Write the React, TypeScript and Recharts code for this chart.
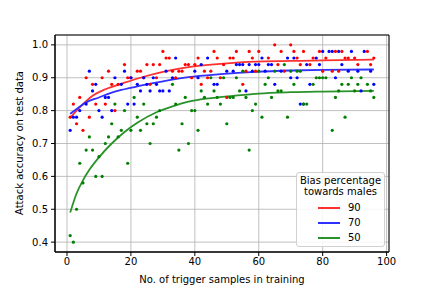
import { ComposedChart, Scatter, Line, XAxis, YAxis, CartesianGrid, ReferenceArea } from 'recharts';

// scatter points [trigger samples, accuracy]
const points90: [number, number][] = [
  [1, 0.78], [2, 0.82], [3, 0.76], [4, 0.84], [5, 0.74], [6, 0.9], [7, 0.78], [8, 0.88], [9, 0.82],
  [11, 0.9], [12, 0.82], [13, 0.92], [14, 0.88], [15, 0.8], [16, 0.88], [18, 0.94], [19, 0.9], [20, 0.9],
  [22, 0.92], [23, 0.92], [24, 0.9], [25, 0.94], [26, 0.88], [27, 0.94], [28, 0.9], [29, 0.94], [30, 0.98],
  [31, 0.96], [32, 0.96], [33, 0.92], [34, 0.9], [35, 0.92], [36, 0.92], [37, 0.94], [38, 0.94], [39, 0.9],
  [40, 0.94], [41, 0.96], [42, 0.88], [43, 0.92], [44, 0.9], [45, 0.92], [46, 0.98], [47, 0.96], [48, 0.9],
  [49, 0.94], [50, 0.84], [51, 0.96], [52, 0.96], [53, 0.98], [55, 0.88], [56, 0.92], [57, 0.98], [58, 0.96],
  [59, 0.92], [60, 0.98], [63, 0.96], [65, 1.0], [66, 0.94], [67, 0.98], [68, 0.92], [70, 1.0], [71, 0.98],
  [72, 0.96], [73, 0.94], [74, 0.98], [76, 0.94], [77, 0.96], [79, 0.98], [80, 0.92], [81, 0.96], [83, 0.92],
  [84, 0.98], [85, 0.92], [86, 0.98], [87, 0.96], [88, 0.96], [90, 0.96], [91, 0.94], [94, 0.98], [95, 0.94],
  [96, 0.96],
];

const points70: [number, number][] = [
  [1, 0.74], [2, 0.78], [3, 0.78], [4, 0.8], [6, 0.82], [7, 0.92], [8, 0.86], [9, 0.88], [10, 0.8],
  [11, 0.78], [12, 0.84], [13, 0.84], [14, 0.8], [15, 0.9], [17, 0.88], [18, 0.92], [19, 0.82], [20, 0.9],
  [21, 0.82], [22, 0.88], [23, 0.86], [24, 0.9], [25, 0.88], [26, 0.86], [27, 0.9], [28, 0.88], [29, 0.86],
  [30, 0.86], [31, 0.92], [32, 0.86], [33, 0.9], [34, 0.96], [40, 0.92], [41, 0.9], [42, 0.94], [44, 0.96],
  [46, 0.88], [47, 0.88], [50, 0.92], [52, 0.92], [53, 0.94], [54, 0.94], [55, 0.94], [56, 0.86], [57, 0.94],
  [58, 0.92], [59, 0.94], [60, 0.94], [61, 0.96], [62, 0.92], [63, 0.94], [64, 0.94], [65, 0.88], [67, 0.92],
  [69, 0.96], [70, 0.9], [71, 0.96], [72, 0.9], [73, 0.82], [74, 0.82], [75, 0.94], [76, 0.88], [78, 0.96],
  [79, 0.94], [80, 0.98], [82, 0.98], [83, 0.98], [84, 0.9], [85, 0.98], [86, 0.94], [88, 0.92], [89, 0.98],
  [91, 0.92], [92, 0.86], [93, 0.98], [95, 0.92], [96, 0.88],
];

const points50: [number, number][] = [
  [1, 0.42], [2, 0.4], [3, 0.5], [4, 0.64], [5, 0.58], [6, 0.68], [7, 0.72], [8, 0.68], [9, 0.6],
  [10, 0.66], [11, 0.6], [12, 0.7], [13, 0.72], [14, 0.76], [15, 0.82], [16, 0.72], [17, 0.74], [18, 0.8],
  [19, 0.64], [20, 0.74], [21, 0.84], [22, 0.78], [23, 0.74], [24, 0.82], [25, 0.76], [26, 0.7], [27, 0.76],
  [28, 0.78], [29, 0.8], [33, 0.88], [34, 0.82], [35, 0.68], [36, 0.76], [37, 0.84], [38, 0.7], [39, 0.8],
  [40, 0.8], [41, 0.74], [42, 0.86], [43, 0.84], [44, 0.82], [45, 0.9], [46, 0.86], [47, 0.84], [48, 0.82],
  [49, 0.9], [50, 0.76], [51, 0.84], [52, 0.84], [53, 0.9], [54, 0.86], [55, 0.92], [56, 0.84], [57, 0.68],
  [58, 0.8], [59, 0.82], [60, 0.92], [61, 0.78], [62, 0.88], [63, 0.9], [64, 0.84], [65, 0.92], [66, 0.86],
  [67, 0.86], [68, 0.94], [69, 0.78], [70, 0.92], [71, 0.88], [72, 0.92], [73, 0.92], [74, 0.82], [75, 0.82],
  [77, 0.88], [78, 0.9], [79, 0.9], [80, 0.9], [81, 0.9], [83, 0.74], [84, 0.84], [85, 0.86], [86, 0.88],
  [87, 0.78], [88, 0.88], [89, 0.9], [90, 0.86], [91, 0.88], [92, 0.9], [94, 0.88], [95, 0.86], [96, 0.84],
];

// fitted trend curves, sampled from the figure
const curve90: [number, number][] = [
  [1, 0.778], [3, 0.8], [5, 0.82], [8, 0.845], [12, 0.865], [18, 0.885], [24, 0.903], [30, 0.918],
  [38, 0.932], [48, 0.942], [59, 0.949], [70, 0.951], [80, 0.953], [96, 0.955],
];
const curve70: [number, number][] = [
  [1, 0.79], [3, 0.805], [6, 0.825], [10, 0.84], [14, 0.855], [18, 0.865], [25, 0.88], [32, 0.893],
  [38, 0.902], [48, 0.911], [59, 0.918], [70, 0.922], [80, 0.924], [96, 0.925],
];
const curve50: [number, number][] = [
  [1, 0.49], [3, 0.548], [5, 0.588], [7, 0.62], [10, 0.658], [14, 0.7], [18, 0.735], [22, 0.763],
  [28, 0.795], [33, 0.813], [38, 0.827], [45, 0.838], [52, 0.845], [60, 0.852], [70, 0.856], [80, 0.858],
  [96, 0.86],
];

const xTicks = [0, 20, 40, 60, 80, 100];
const yTicks = [0.4, 0.5, 0.6, 0.7, 0.8, 0.9, 1.0];
const biasLabels = ['90', '70', '50'];

const toRows = (pts: [number, number][]) => pts.map(([x, y]) => ({ x, y }));

const RED = '#ff0000';
const BLUE = '#0000ff';
const GREEN = '#008000';

const dot = (color: string) => (props: any) =>
  <circle cx={props.cx} cy={props.cy} r={1.6} fill={color} />;

const FONT = 'DejaVu Sans, sans-serif';

export default function App() {
  const series = [
    { pts: points90, curve: curve90, color: RED, line: '#ff3030' },
    { pts: points70, curve: curve70, color: BLUE, line: '#3030ff' },
    { pts: points50, curve: curve50, color: GREEN, line: '#2a922a' },
  ];

  return (
    <div style={{ position: 'fixed', left: 0, top: 0, width: 432, height: 288, background: '#fff', fontFamily: FONT }}>
      <ComposedChart width={432} height={288} margin={{ top: 35, right: 43, left: 8, bottom: 0 }}>
        <CartesianGrid stroke="#b0b0b0" strokeWidth={0.8} />
        <XAxis
          dataKey="x"
          type="number"
          domain={[-3.75, 100.75]}
          allowDataOverflow
          ticks={xTicks}
          height={36}
          tickSize={4}
          tickMargin={2}
          tick={{ fontSize: 10, fill: '#000', fontFamily: FONT }}
          axisLine={{ stroke: '#000' }}
          tickLine={{ stroke: '#000' }}
          label={{
            content: () => (
              <text x={222} y={279} textAnchor="middle" dominantBaseline="central" fontSize={10} fill="#000" fontFamily={FONT}>
                No. of trigger samples in training
              </text>
            ),
          }}
        />
        <YAxis
          dataKey="y"
          type="number"
          domain={[0.37, 1.03]}
          allowDataOverflow
          ticks={yTicks}
          width={47}
          tickSize={4}
          tickMargin={3}
          tickFormatter={(v: number) => v.toFixed(1)}
          tick={{ fontSize: 10, fill: '#000', fontFamily: FONT }}
          axisLine={{ stroke: '#000' }}
          tickLine={{ stroke: '#000' }}
          label={{
            content: () => (
              <text x={19} y={143} transform="rotate(-90 19 143)" textAnchor="middle" dominantBaseline="central" fontSize={10} fill="#000" fontFamily={FONT}>
                Attack accuracy on test data
              </text>
            ),
          }}
        />
        {series.map((s, i) => [
          <Scatter key={`s${i}`} data={toRows(s.pts)} dataKey="y" fill={s.color} shape={dot(s.color)} isAnimationActive={false} />,
          <Line key={`l${i}`} data={toRows(s.curve)} dataKey="y" type="monotone" stroke={s.line} strokeWidth={1.8} dot={false} activeDot={false} isAnimationActive={false} />,
        ])}
        <ReferenceArea x1={-3.75} x2={100.75} y1={0.37} y2={1.03} fill="none" stroke="#000" strokeWidth={1} />
      </ComposedChart>

      {/* Legend */}
      <div
        style={{
          position: 'absolute', left: 296, top: 172, width: 89, height: 75, boxSizing: 'border-box',
          border: '1px solid #d0d0d0', borderRadius: 3, background: 'rgba(255,255,255,0.85)', fontSize: 10, color: '#000',
        }}
      >
        <div style={{ position: 'absolute', left: 0, right: 0, top: 2, textAlign: 'center', lineHeight: '12px' }}>Bias percentage</div>
        <div style={{ position: 'absolute', left: 0, right: 0, top: 13, textAlign: 'center', lineHeight: '12px' }}>towards males</div>
        {biasLabels.map((label, i) => (
          <div key={label} style={{ position: 'absolute', left: 0, top: 28 + i * 15, height: 14, width: '100%' }}>
            <div style={{ position: 'absolute', left: 21, top: 6, width: 22, height: 2, background: series[i].line }} />
            <span style={{ position: 'absolute', left: 51, top: 0, lineHeight: '14px' }}>{label}</span>
          </div>
        ))}
      </div>
    </div>
  );
}
